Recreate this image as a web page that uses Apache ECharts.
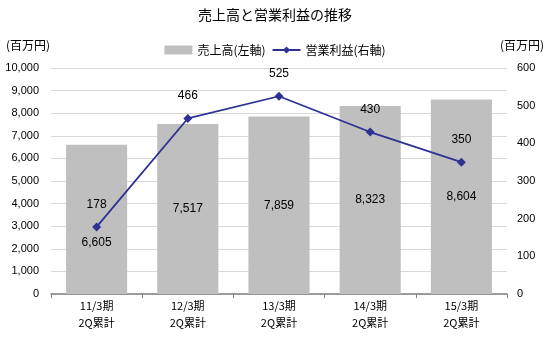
<!DOCTYPE html>
<html><head><meta charset="utf-8">
<script src="https://cdn.jsdelivr.net/npm/echarts@6/dist/echarts.min.js"></script>
<style>html,body{margin:0;padding:0;background:#fff}#c{width:550px;height:337px}</style>
</head><body><div id="c"></div>
<script>
const categories = ['11/3期\n2Q累計','12/3期\n2Q累計','13/3期\n2Q累計','14/3期\n2Q累計','15/3期\n2Q累計'];
const sales = [6605, 7517, 7859, 8323, 8604];
const profit = [178, 466, 525, 430, 350];
const leftTicks = [0, 10000, 1000];
const rightTicks = [0, 600, 100];
const F = '"Noto Sans CJK JP", sans-serif';
const N = '"Liberation Sans", Arial, sans-serif';
const chart = echarts.init(document.getElementById('c'));
chart.setOption({
  animation: false,
  textStyle: {fontFamily: F},
  title: {text: '売上高と営業利益の推移', left: 'center', top: 3,
    textStyle: {fontFamily: F, fontSize: 14, fontWeight: 'normal', color: '#000'}},
  legend: {top: 39, left: 'center', itemGap: 6, itemWidth: 28, itemHeight: 9,
    textStyle: {fontFamily: F, fontSize: 12, color: '#000'},
    data: [{name: '売上高(左軸)', icon: 'rect'}, {name: '営業利益(右軸)'}]},
  graphic: [
    {type: 'text', left: 6, top: 39, style: {text: '(百万円)', font: '12px ' + F, fill: '#000'}},
    {type: 'text', right: 6, top: 39, style: {text: '(百万円)', font: '12px ' + F, fill: '#000'}}
  ],
  grid: {left: 51, right: 43, top: 68, bottom: 43},
  xAxis: {type: 'category', data: categories,
    axisLine: {lineStyle: {color: '#808080', width: 1.5}},
    axisTick: {show: true, length: 4, lineStyle: {color: '#808080'}},
    axisLabel: {fontFamily: F, fontSize: 11, color: '#000', lineHeight: 17, margin: 3}},
  yAxis: [
    {type: 'value', min: leftTicks[0], max: leftTicks[1], interval: leftTicks[2],
      axisLine: {show: false}, axisTick: {show: false},
      splitLine: {lineStyle: {color: '#d9d9d9'}},
      axisLabel: {fontFamily: N, fontSize: 11, color: '#000', margin: 12,
        formatter: v => v.toLocaleString('en-US')}},
    {type: 'value', min: rightTicks[0], max: rightTicks[1], interval: rightTicks[2],
      axisLine: {show: false}, axisTick: {show: false}, splitLine: {show: false},
      axisLabel: {fontFamily: N, fontSize: 11, color: '#000', margin: 10}}
  ],
  series: [
    {name: '売上高(左軸)', type: 'bar', yAxisIndex: 0, barCategoryGap: '33%',
      itemStyle: {color: '#bfbfbf'},
      data: sales.map((v, i) => ({value: v, label: i === 0 ? {offset: [0, 23]} : {}})),
      label: {show: true, position: 'inside', color: '#000', fontFamily: N, fontSize: 12,
        formatter: p => p.value.toLocaleString('en-US')}, z: 1},
    {name: '営業利益(右軸)', type: 'line', yAxisIndex: 1, data: profit,
      symbol: 'diamond', symbolSize: 9,
      lineStyle: {color: '#2e3192', width: 1.8}, itemStyle: {color: '#2e3192'},
      label: {show: true, position: 'top', distance: 12, color: '#000', fontFamily: N, fontSize: 12}, z: 3}
  ]
});
</script></body></html>
